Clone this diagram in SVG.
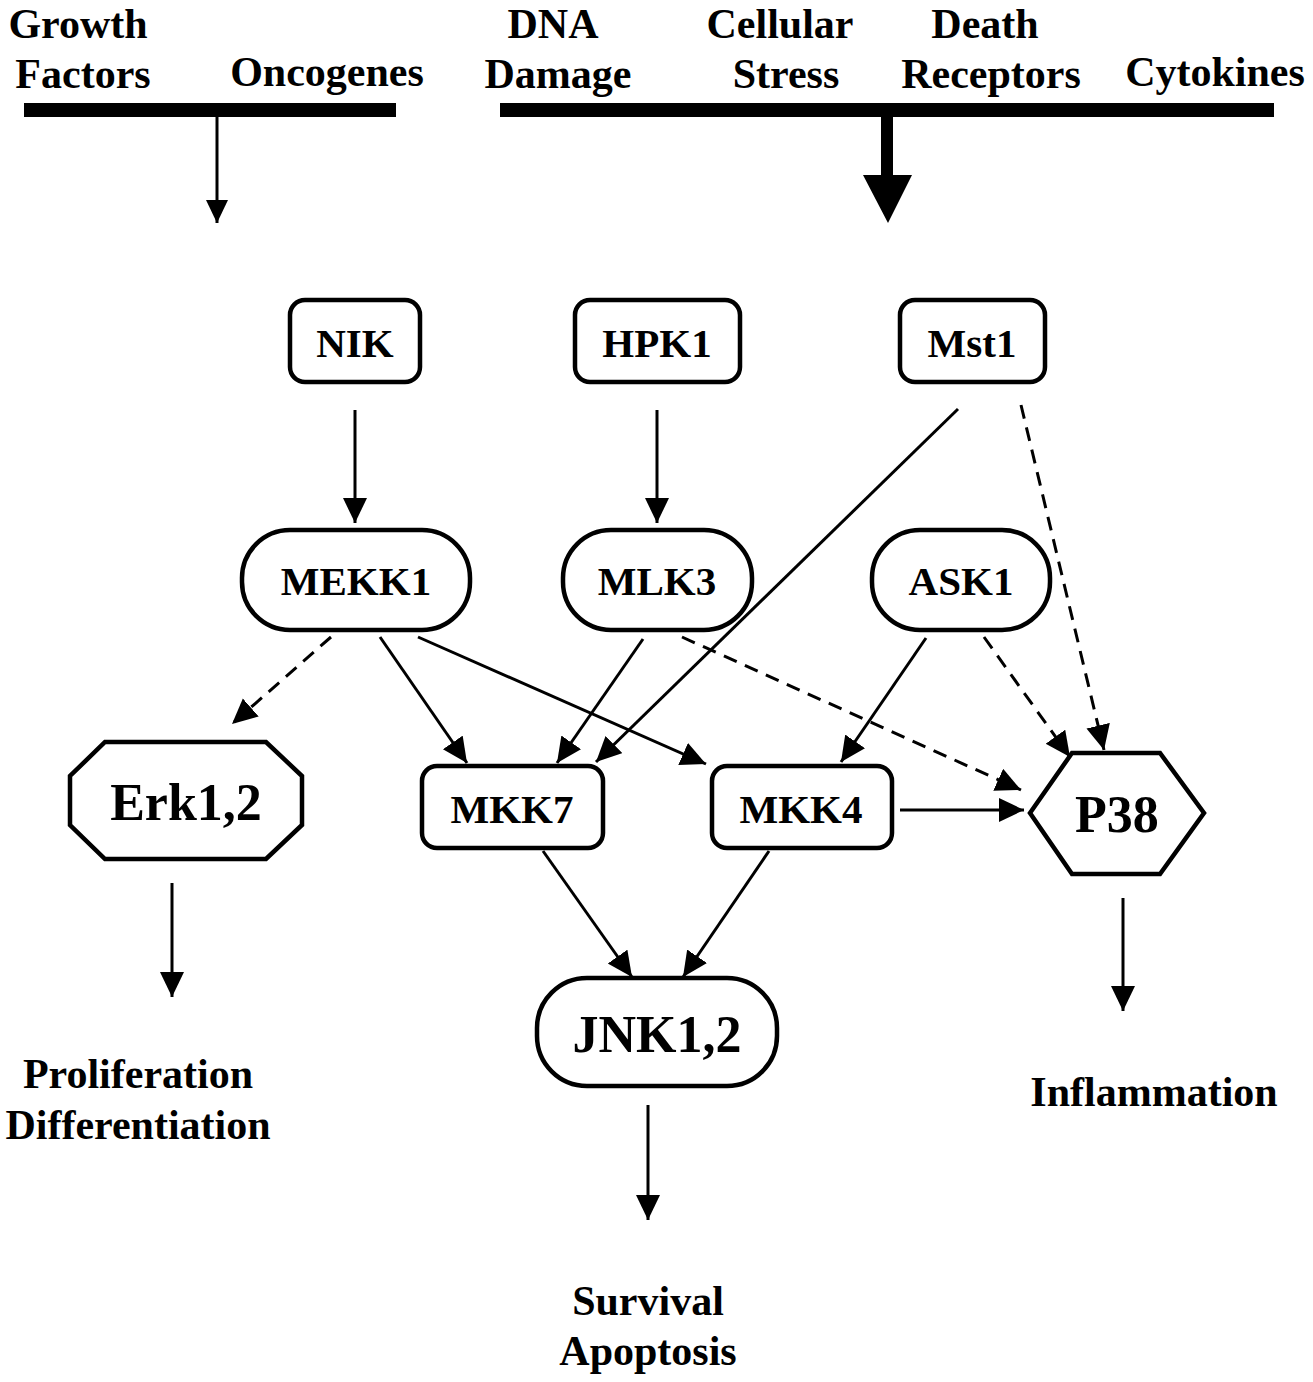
<svg xmlns="http://www.w3.org/2000/svg" width="1313" height="1382" viewBox="0 0 1313 1382">
<style>
text{font-family:"Liberation Serif","Times New Roman",serif;font-weight:bold;fill:#000;text-anchor:middle}
.t{font-size:42px}
.n{font-size:41px}
.b{font-size:52px}
.node{fill:#fff;stroke:#000;stroke-width:4.5}
.c{stroke:#000;stroke-width:3;fill:none}
.d{stroke-dasharray:14,9}
</style>
<defs>
<marker id="ah" markerUnits="userSpaceOnUse" markerWidth="26" markerHeight="26" refX="25" refY="12" orient="auto">
<path d="M0,0 L25,12 L0,24 Z" fill="#000"/>
</marker>
<marker id="ahs" markerUnits="userSpaceOnUse" markerWidth="24" markerHeight="24" refX="23" refY="11" orient="auto">
<path d="M0,0 L23,11 L0,22 Z" fill="#000"/>
</marker>
</defs>
<rect width="1313" height="1382" fill="#fff"/>
<g id="headers">
<text class="t" x="78" y="38">Growth</text>
<text class="t" x="83" y="88">Factors</text>
<text class="t" x="327" y="86">Oncogenes</text>
<text class="t" x="553" y="38">DNA</text>
<text class="t" x="558" y="88">Damage</text>
<text class="t" x="780" y="38">Cellular</text>
<text class="t" x="786" y="88">Stress</text>
<text class="t" x="985" y="38">Death</text>
<text class="t" x="991" y="88">Receptors</text>
<text class="t" x="1215" y="86">Cytokines</text>
<rect x="24" y="103" width="372" height="14" fill="#000"/>
<rect x="500" y="103" width="774" height="14" fill="#000"/>
</g>
<g id="NIK"><rect class="node" x="290" y="300" width="130" height="82" rx="15"/><text class="n" x="355" y="357">NIK</text></g>
<g id="HPK1"><rect class="node" x="575" y="300" width="165" height="82" rx="15"/><text class="n" x="657" y="357">HPK1</text></g>
<g id="Mst1"><rect class="node" x="900" y="300" width="145" height="82" rx="15"/><text class="n" x="972" y="357">Mst1</text></g>
<g id="MEKK1"><rect class="node" x="242" y="530" width="228" height="100" rx="48"/><text class="n" x="356" y="595">MEKK1</text></g>
<g id="MLK3"><rect class="node" x="563" y="530" width="189" height="100" rx="48"/><text class="n" x="657" y="595">MLK3</text></g>
<g id="ASK1"><rect class="node" x="872" y="530" width="178" height="100" rx="48"/><text class="n" x="961" y="595">ASK1</text></g>
<g id="Erk12"><polygon class="node" points="105,742 266,742 302,776 302,825 266,859 105,859 70,825 70,776"/><text class="b" x="186" y="820">Erk1,2</text></g>
<g id="MKK7"><rect class="node" x="422" y="766" width="181" height="82" rx="15"/><text class="n" x="512" y="823">MKK7</text></g>
<g id="MKK4"><rect class="node" x="712" y="766" width="180" height="82" rx="15"/><text class="n" x="801" y="823">MKK4</text></g>
<g id="P38"><polygon class="node" points="1030,813 1072,753 1160,753 1204,813 1160,874 1072,874"/><text class="b" x="1117" y="832">P38</text></g>
<g id="JNK12"><rect class="node" x="537" y="978" width="240" height="108" rx="50"/><text class="b" x="657" y="1052">JNK1,2</text></g>
<g id="outcomes">
<text class="t" x="138" y="1088">Proliferation</text>
<text class="t" x="138" y="1139">Differentiation</text>
<text class="t" x="648" y="1315">Survival</text>
<text class="t" x="648" y="1365">Apoptosis</text>
<text class="t" x="1154" y="1106">Inflammation</text>
</g>
<g id="connectors">
<line class="c" x1="217" y1="117" x2="217" y2="223" stroke-width="2.5" marker-end="url(#ahs)"/>
<path d="M881,110 H893 V175 H912 L888,223 L863,175 H881 Z" fill="#000"/>
<line class="c" x1="355" y1="410" x2="355" y2="523" marker-end="url(#ah)"/>
<line class="c" x1="657" y1="410" x2="657" y2="523" marker-end="url(#ah)"/>
<line class="c d" x1="331" y1="637" x2="232" y2="724" marker-end="url(#ah)"/>
<line class="c" x1="380" y1="637" x2="467" y2="763" marker-end="url(#ah)"/>
<line class="c" x1="418" y1="637" x2="706" y2="764" marker-end="url(#ah)"/>
<line class="c" x1="643" y1="639" x2="557" y2="763" marker-end="url(#ah)"/>
<line class="c d" x1="682" y1="637" x2="1021" y2="790" marker-end="url(#ah)"/>
<line class="c" x1="958" y1="409" x2="596" y2="762" marker-end="url(#ah)"/>
<line class="c d" x1="1021" y1="405" x2="1104" y2="750" marker-end="url(#ah)"/>
<line class="c" x1="926" y1="638" x2="841" y2="762" marker-end="url(#ah)"/>
<line class="c d" x1="984" y1="637" x2="1070" y2="757" marker-end="url(#ah)"/>
<line class="c" x1="900" y1="810" x2="1024" y2="810" marker-end="url(#ah)"/>
<line class="c" x1="543" y1="851" x2="632" y2="977" marker-end="url(#ah)"/>
<line class="c" x1="769" y1="851" x2="683" y2="977" marker-end="url(#ah)"/>
<line class="c" x1="172" y1="883" x2="172" y2="997" marker-end="url(#ah)"/>
<line class="c" x1="648" y1="1105" x2="648" y2="1220" marker-end="url(#ah)"/>
<line class="c" x1="1123" y1="898" x2="1123" y2="1011" marker-end="url(#ah)"/>
</g>
</svg>
